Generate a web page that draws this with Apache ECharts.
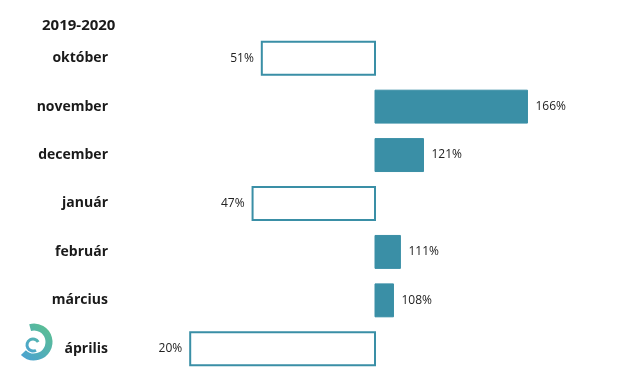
<!DOCTYPE html>
<html>
<head>
<meta charset="utf-8">
<script src="https://cdn.jsdelivr.net/npm/echarts@6/dist/echarts.min.js"></script>
<style>
html,body{margin:0;padding:0;background:#fff;}
#main{width:640px;height:385px;}
</style>
</head>
<body>
<div id="main"></div>
<script>
const title = '2019-2020';
const categories = ['október', 'november', 'december', 'január', 'február', 'március', 'április'];
const values = [51, 166, 121, 47, 111, 108, 20];
const baseline = 100;

const chart = echarts.init(document.getElementById('main'));
const teal = '#3a8fa6';
const font = '"Open Sans", "Noto Sans", sans-serif';

function renderItem(params, api) {
  const v = api.value(0);
  const cat = api.value(1);
  const p0 = api.coord([baseline, cat]);
  const p1 = api.coord([v, cat]);
  const h = api.size([0, 1])[1] * 0.68;
  const x = Math.min(p0[0], p1[0]);
  const w = Math.abs(p1[0] - p0[0]);
  const below = v < baseline;
  return {
    type: 'group',
    children: [
      {
        type: 'rect',
        shape: { x: x, y: p0[1] - h / 2, width: w, height: h },
        style: below ? { fill: '#fff', stroke: teal, lineWidth: 2 } : { fill: teal, stroke: teal, lineWidth: 1 }
      },
      {
        type: 'text',
        x: below ? p1[0] - 8 : p1[0] + 8,
        y: p0[1],
        style: {
          text: v + '%',
          align: below ? 'right' : 'left',
          verticalAlign: 'middle',
          fill: '#222',
          font: '12px ' + font
        }
      }
    ]
  };
}

const grad = (a, b) => new echarts.graphic.LinearGradient(1, 0, 0, 1, [
  { offset: 0, color: a },
  { offset: 1, color: b }
]);

chart.setOption({
  animation: false,
  title: {
    text: title,
    left: 37,
    top: 13,
    textStyle: { fontFamily: font, fontSize: 15, fontWeight: 'bold', color: '#1a1a1a' }
  },
  grid: { left: 144, right: 34, top: 34, bottom: 12 },
  xAxis: {
    type: 'value', min: 0, max: 200, show: false
  },
  yAxis: {
    type: 'category',
    data: categories,
    inverse: true,
    axisLine: { show: false },
    axisTick: { show: false },
    splitLine: { show: false },
    axisLabel: {
      margin: 36,
      fontFamily: font,
      fontSize: 14,
      fontWeight: 'bold',
      color: '#1a1a1a'
    }
  },
  series: [{
    type: 'custom',
    renderItem: renderItem,
    encode: { x: 0, y: 1 },
    data: values.map((v, i) => [v, i])
  }],
  graphic: [
    {
      type: 'group',
      children: [
        {
          type: 'arc',
          shape: { cx: 34, cy: 342, r: 15, startAngle: -105 * Math.PI / 180, endAngle: 135 * Math.PI / 180, clockwise: true },
          style: { fill: 'none', lineWidth: 7, stroke: grad('#5cc28a', '#4aa0d6') }
        },
        {
          type: 'arc',
          shape: { cx: 33, cy: 345, r: 6, startAngle: 60 * Math.PI / 180, endAngle: 330 * Math.PI / 180, clockwise: true },
          style: { fill: 'none', lineWidth: 3, stroke: grad('#55b8a8', '#4aa0d6') }
        }
      ]
    }
  ]
});
</script>
</body>
</html>
